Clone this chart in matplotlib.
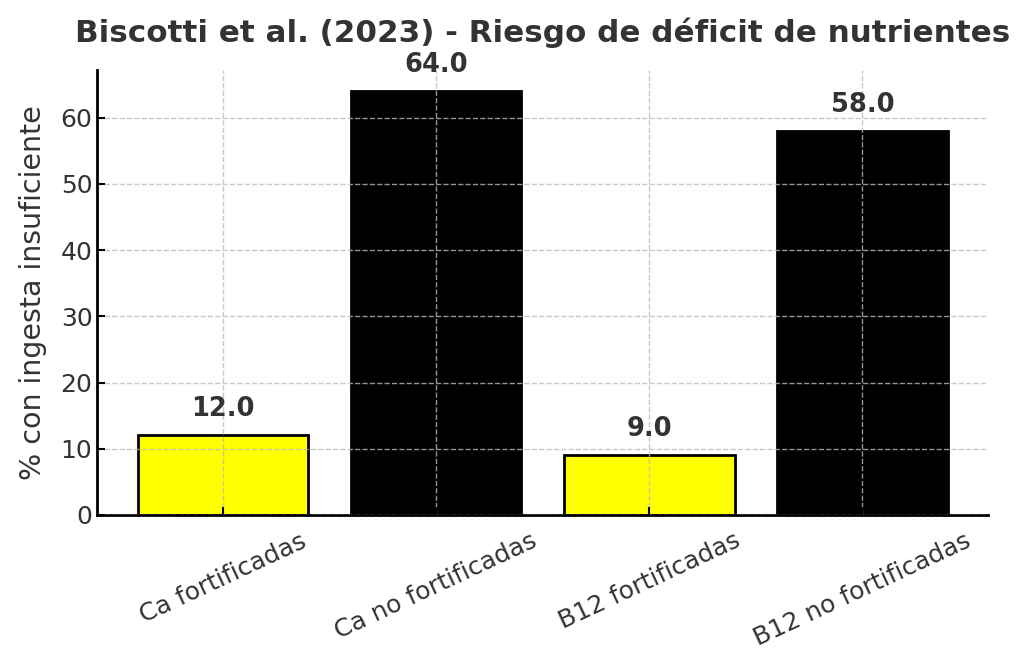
import matplotlib
matplotlib.use("Agg")
import matplotlib.pyplot as plt

categories = ["Ca fortificadas", "Ca no fortificadas", "B12 fortificadas", "B12 no fortificadas"]
values = [12.0, 64.0, 9.0, 58.0]
colors = ["#FFFF00", "#000000", "#FFFF00", "#000000"]

plt.rcParams['font.family'] = ['DejaVu Sans']
txt = "#333333"

fig, ax = plt.subplots(figsize=(10.24, 6.67), dpi=100)
fig.subplots_adjust(left=0.095, right=0.965, top=0.895, bottom=0.228)

bars = ax.bar(categories, values, color=colors, edgecolor="black", linewidth=2, width=0.8)
for b, v in zip(bars, values):
    ax.text(b.get_x() + b.get_width() / 2, v + 2, f"{v:.1f}", ha="center", va="bottom",
            fontsize=18.5, fontweight="bold", color=txt)

ax.set_ylim(0, 67.2)
ax.set_title("Biscotti et al. (2023) - Riesgo de déficit de nutrientes", fontsize=22.3,
             fontweight="bold", color=txt, pad=20)
ax.set_ylabel("% con ingesta insuficiente", fontsize=20.5, color=txt, labelpad=10)
ax.grid(True, linestyle="--", color="#bbbbbb", linewidth=1, alpha=0.8)
ax.set_axisbelow(False)
for s in ["top", "right"]:
    ax.spines[s].set_visible(False)
for s in ["left", "bottom"]:
    ax.spines[s].set_linewidth(2)
ax.tick_params(direction="in", labelsize=18, colors="black", labelcolor=txt, length=6, width=1.5)
ax.tick_params(axis="x", pad=10)
plt.setp(ax.get_xticklabels(), rotation=25, ha="center")

fig.savefig("out.png", dpi=100)
